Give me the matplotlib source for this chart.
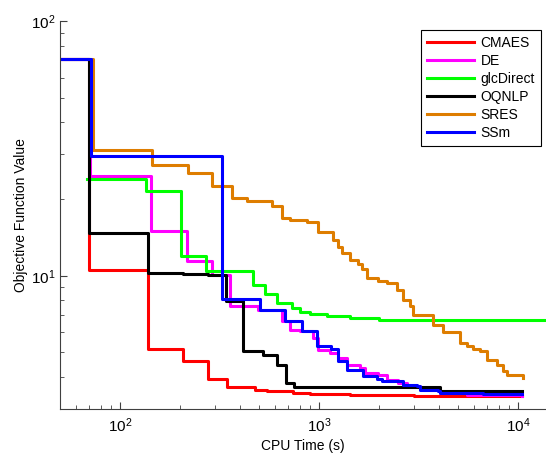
import matplotlib
matplotlib.use("Agg")
import matplotlib.pyplot as plt
from matplotlib.ticker import LogLocator, NullFormatter

plt.rcParams['font.family'] = ['Liberation Sans', 'DejaVu Sans']
plt.rcParams['mathtext.fontset'] = 'custom'
plt.rcParams['mathtext.rm'] = 'Liberation Sans'
plt.rcParams['mathtext.it'] = 'Liberation Sans'

# Convergence curves: CPU time (s) vs best objective value (step-post)
cmaes_t = [45, 70, 139, 208, 278, 347, 477, 548, 740, 901, 1432, 3000, 10450]
cmaes_f = [71, 10.5, 5.18, 4.64, 3.95, 3.66, 3.57, 3.54, 3.47, 3.43, 3.40, 3.38, 3.37]

de_t = [45, 70.7, 144, 218, 289, 357, 494, 649, 714, 803, 934, 989, 1136, 1245,
        1382, 1607, 1703, 1979, 2196, 2495, 2768, 3333, 4055, 5543, 10470]
de_f = [71, 24.7, 15.0, 11.4, 10.06, 7.62, 7.36, 6.62, 6.14, 6.05, 5.71, 5.13,
        4.99, 4.77, 4.48, 4.36, 4.17, 4.09, 3.91, 3.80, 3.67, 3.57, 3.48, 3.41, 3.38]

glc_t = [68, 134.6, 202, 270, 468, 535, 613, 730, 803, 900, 1100, 1430, 2000, 20000]
glc_f = [23.9, 21.6, 11.98, 10.4, 9.23, 8.5, 7.85, 7.5, 7.2, 7.1, 6.95, 6.8, 6.72, 6.70]

oqnlp_t = [45, 69.8, 138, 208, 278, 343, 414, 525, 613, 682, 749, 4055, 10470]
oqnlp_f = [71, 14.7, 10.3, 10.2, 10.1, 7.93, 5.05, 4.90, 4.48, 3.79, 3.65, 3.52, 3.52]

sres_t = [45, 73.5, 145, 219, 289, 364, 433, 578, 649, 714, 867, 993, 1180, 1250,
          1300, 1432, 1580, 1640, 1736, 1986, 2188, 2455, 2652, 2864, 2977, 3750,
          4220, 5110, 5525, 5963, 6442, 6962, 7813, 8437, 8775, 10560]
sres_f = [71, 31.2, 27.1, 25.3, 22.6, 20.2, 19.7, 18.8, 16.9, 16.6, 16.3, 14.9,
          13.8, 13.0, 12.3, 11.5, 11.1, 10.6, 9.8, 9.5, 9.36, 8.8, 8.05, 7.58, 7.03,
          6.39, 6.0, 5.45, 5.28, 5.17, 5.05, 4.68, 4.48, 4.22, 4.09, 3.97]

ssm_t = [45, 71.2, 324, 505, 675, 818, 972, 1150, 1250, 1377, 1669, 1950, 2066,
         2652, 3098, 3217, 3977, 4055, 6668, 10470]
ssm_f = [71, 29.6, 8.13, 7.36, 6.62, 6.05, 5.28, 5.15, 4.62, 4.27, 4.04, 3.95,
         3.85, 3.74, 3.68, 3.57, 3.52, 3.47, 3.44, 3.43]

series = [
    ("CMAES", cmaes_t, cmaes_f, (1.0, 0.0, 0.0)),
    ("DE", de_t, de_f, (1.0, 0.0, 1.0)),
    ("glcDirect", glc_t, glc_f, (0.0, 1.0, 0.0)),
    ("OQNLP", oqnlp_t, oqnlp_f, (0.0, 0.0, 0.0)),
    ("SRES", sres_t, sres_f, (0.87, 0.49, 0.0)),
    ("SSm", ssm_t, ssm_f, (0.0, 0.0, 1.0)),
]

fig = plt.figure(figsize=(5.46, 4.57), dpi=100)
ax = fig.add_axes([60 / 546, 1 - 409 / 457, 486 / 546, 388 / 457])

for name, t, f, c in series:
    ax.step(t, f, where='post', color=c, lw=2.2, label=name)

ax.set_xscale('log')
ax.set_yscale('log')
ax.set_xlim(50, 13826)
ax.set_ylim(3.0, 100)

ax.xaxis.set_major_locator(LogLocator(base=10))
ax.yaxis.set_major_locator(LogLocator(base=10))
ax.xaxis.set_minor_locator(LogLocator(base=10, subs=range(2, 10)))
ax.yaxis.set_minor_locator(LogLocator(base=10, subs=range(2, 10)))
ax.xaxis.set_minor_formatter(NullFormatter())
ax.yaxis.set_minor_formatter(NullFormatter())

for s in ('top', 'right'):
    ax.spines[s].set_visible(False)
for s in ('left', 'bottom'):
    ax.spines[s].set_color('0.25')
    ax.spines[s].set_linewidth(0.8)

ax.tick_params(which='both', direction='in', colors='0.25', labelcolor='black',
               labelsize=11)
ax.tick_params(which='major', length=5, width=0.8)
ax.tick_params(which='minor', length=3, width=0.6)
ax.tick_params(axis='x', which='major', pad=5)

ax.set_xlabel("CPU Time (s)", fontsize=10, labelpad=3)
ax.set_ylabel("Objective Function Value", fontsize=10, labelpad=2)

leg = ax.legend(loc='upper right',
                bbox_to_anchor=((541 - 60) / 486, (409 - 30) / 388),
                bbox_transform=ax.transAxes, fontsize=10, fancybox=False,
                framealpha=1, edgecolor='black', handlelength=3.4,
                handletextpad=0.45, labelspacing=0.28, borderpad=0.45,
                borderaxespad=0.0)
leg.get_frame().set_linewidth(0.8)

fig.savefig("out.png", dpi=100)
